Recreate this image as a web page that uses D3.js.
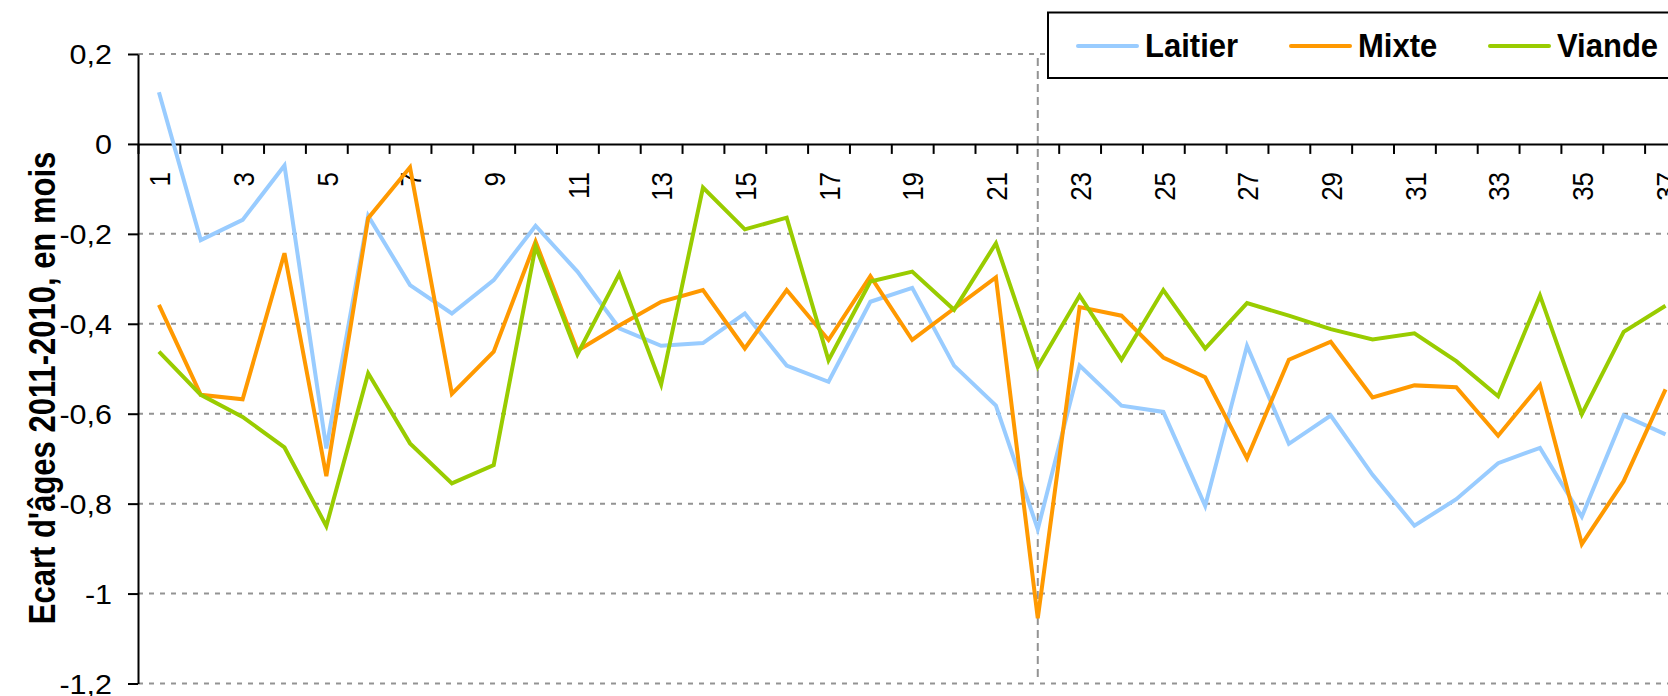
<!DOCTYPE html>
<html>
<head>
<meta charset="utf-8">
<script src="https://cdn.jsdelivr.net/npm/d3@7"></script>
<style>
	body { margin: 0; background: #fff; }
	svg { display: block; }
	text { font-family: "Liberation Sans", Arial, sans-serif; }
</style>
</head>
<body>
<div id="chart"></div>
<script>
// categories (x axis)
var categories = [1, 2, 3, 4, 5, 6, 7, 8, 9, 10, 11, 12, 13, 14, 15, 16, 17, 18, 19, 20,
	21, 22, 23, 24, 25, 26, 27, 28, 29, 30, 31, 32, 33, 34, 35, 36, 37];

// écart d'âges 2011-2010, en mois
var laitier = [0.115, -0.214, -0.169, -0.048, -0.677, -0.160, -0.314, -0.377, -0.303, -0.182,
	-0.284, -0.410, -0.449, -0.443, -0.377, -0.493, -0.529, -0.351, -0.320, -0.493,
	-0.582, -0.857, -0.493, -0.582, -0.596, -0.805, -0.449, -0.667, -0.604, -0.736,
	-0.849, -0.790, -0.710, -0.676, -0.829, -0.604, -0.646];
var mixte = [-0.358, -0.558, -0.568, -0.243, -0.739, -0.165, -0.052, -0.556, -0.462, -0.217,
	-0.460, -0.404, -0.351, -0.325, -0.455, -0.325, -0.436, -0.294, -0.436, -0.366,
	-0.297, -1.055, -0.363, -0.382, -0.475, -0.519, -0.699, -0.480, -0.440, -0.564,
	-0.537, -0.541, -0.649, -0.536, -0.890, -0.750, -0.546];
var viande = [-0.462, -0.558, -0.607, -0.675, -0.850, -0.510, -0.666, -0.755, -0.714, -0.228,
	-0.468, -0.289, -0.535, -0.097, -0.190, -0.164, -0.481, -0.306, -0.284, -0.369,
	-0.221, -0.496, -0.337, -0.480, -0.325, -0.455, -0.354, -0.382, -0.412, -0.435,
	-0.421, -0.483, -0.561, -0.337, -0.601, -0.418, -0.360];

var yTicks = [0.2, 0, -0.2, -0.4, -0.6, -0.8, -1, -1.2];
var markerCat = 22;

var series = [
	{ name: "Laitier", values: laitier, color: "#99CCFF" },
	{ name: "Mixte", values: mixte, color: "#FF9900" },
	{ name: "Viande", values: viande, color: "#99CC00" }
];

var width = 1668, height = 696;
var left = 138, step = 41.85;

var svg = d3.select("#chart").append("svg")
	.attr("width", width)
	.attr("height", height);

var x = d3.scaleLinear()
	.domain([0.5, categories.length + 0.5])
	.range([left, left + categories.length * step]);

var y = d3.scaleLinear()
	.domain([-1.2, 0.2])
	.range([683.5, 54]);

var fmt = function (d) { return String(+d.toFixed(1)).replace(".", ","); };

// horizontal grid
svg.append("g")
	.selectAll("line")
	.data(yTicks.filter(function (d) { return d !== 0; }))
	.enter().append("line")
	.attr("x1", left).attr("x2", width)
	.attr("y1", function (d) { return y(d); })
	.attr("y2", function (d) { return y(d); })
	.attr("stroke", "#939393")
	.attr("stroke-width", 2)
	.attr("stroke-dasharray", "5,6");

// vertical marker line
svg.append("line")
	.attr("x1", x(markerCat)).attr("x2", x(markerCat))
	.attr("y1", 58).attr("y2", 680)
	.attr("stroke", "#939393")
	.attr("stroke-width", 2)
	.attr("stroke-dasharray", "8,5");

// x axis : ticks between categories
var xAxis = svg.append("g")
	.attr("transform", "translate(0," + y(0) + ")")
	.call(d3.axisBottom(x)
		.tickValues(categories.map(function (c) { return c - 0.5; }).concat([categories.length + 0.5]))
		.tickSize(10)
		.tickSizeOuter(0)
		.tickFormat(""));
xAxis.selectAll("line, path").attr("stroke", "#000").attr("stroke-width", 2);

// x labels (odd categories)
var xLabels = svg.append("g")
	.attr("transform", "translate(0," + y(0) + ")")
	.call(d3.axisBottom(x)
		.tickValues(categories.filter(function (c) { return c % 2 === 1; }))
		.tickSize(0)
		.tickFormat(d3.format("d")));
xLabels.select(".domain").remove();
xLabels.selectAll("text")
	.attr("x", 0).attr("y", 0).attr("dy", "0.36em")
	.attr("fill", "#000")
	.style("font-size", "26px")
	.style("text-anchor", "end")
	.attr("transform", "translate(0,28) scale(1.15,1) rotate(-90)");

// y axis
var yAxis = svg.append("g")
	.attr("transform", "translate(" + left + ",0)")
	.call(d3.axisLeft(y).tickValues(yTicks).tickSize(10).tickSizeOuter(0).tickFormat(fmt));
yAxis.selectAll("line, path").attr("stroke", "#000").attr("stroke-width", 2);
yAxis.selectAll("text")
	.attr("fill", "#000")
	.style("font-size", "27px")
	.attr("x", -26 / 1.13)
	.attr("dy", "0.36em")
	.attr("transform", "scale(1.13,1)");

// y title
svg.append("text")
	.attr("transform", "translate(55,388) scale(1.18,1) rotate(-90)")
	.attr("text-anchor", "middle")
	.style("font-size", "31px")
	.style("font-weight", "bold")
	.text("Ecart d'âges 2011-2010, en mois");

// lines
var line = d3.line()
	.x(function (d, i) { return x(categories[i]); })
	.y(function (d) { return y(d); });

svg.selectAll(".serie")
	.data(series)
	.enter().append("path")
	.attr("class", "serie")
	.attr("d", function (s) { return line(s.values); })
	.attr("fill", "none")
	.attr("stroke", function (s) { return s.color; })
	.attr("stroke-width", 4)
	.attr("stroke-linejoin", "miter");

// legend
var legend = svg.append("g");
legend.append("rect")
	.attr("x", 1048).attr("y", 12.5)
	.attr("width", 700).attr("height", 65.5)
	.attr("fill", "#fff")
	.attr("stroke", "#000")
	.attr("stroke-width", 2);

var legendX = [1078, 1291, 1490];
var item = legend.selectAll(".item")
	.data(series)
	.enter().append("g")
	.attr("transform", function (d, i) { return "translate(" + legendX[i] + ",46)"; });
item.append("line")
	.attr("x1", 0).attr("x2", 59)
	.attr("stroke", function (d) { return d.color; })
	.attr("stroke-width", 4)
	.attr("stroke-linecap", "round");
item.append("text")
	.attr("transform", "translate(67,11) scale(0.94,1)")
	.style("font-size", "33px")
	.style("font-weight", "bold")
	.text(function (d) { return d.name; });
</script>
</body>
</html>
